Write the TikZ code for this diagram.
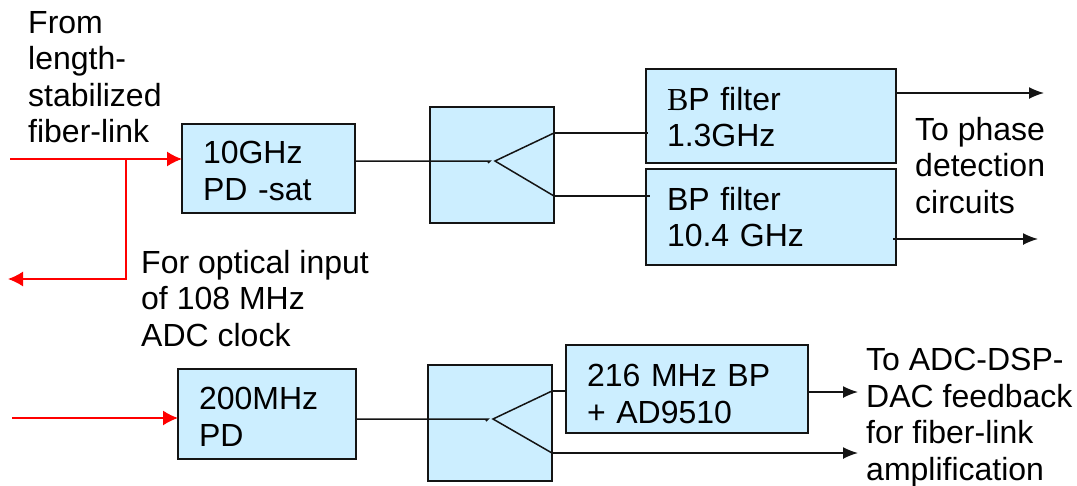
\documentclass[tikz,border=0pt]{standalone}
\usepackage{fontspec}
\setmainfont{Liberation Sans}
\newfontfamily\serifB{Liberation Serif}
\usetikzlibrary{arrows.meta,calc,positioning}
\definecolor{figC}{RGB}{204,238,255}
\definecolor{figL}{RGB}{20,20,20}

\begin{document}
\begin{tikzpicture}[x=1pt,y=-1pt,
  block/.style={draw=figL,line width=1.5pt,fill=figC,anchor=north west,outer sep=0pt,inner xsep=21pt,inner ysep=0pt,align=left,font=\fontsize{32}{36.5}\selectfont},
  textdrop/.style={execute at begin node={\rule{0pt}{#1}}},
  note/.style={anchor=north west,inner sep=0pt,align=left,font=\fontsize{32}{36.5}\selectfont},
  wire/.style={figL,line width=1.5pt},
  redline/.style={red,line width=1.5pt},
  outarrow/.style={wire,-{Latex[length=15pt,width=12pt]}},
  redarrow/.style={redline,-{Latex[length=15pt,width=15pt]}}]
\useasboundingbox (0,0) rectangle (1077,485);
% upper chain
\node[block,minimum width=173pt,minimum height=89pt,text width=131pt,textdrop=27pt] (pdsat) at (182,124) {10GHz\\PD -sat};
\node[block,minimum width=124pt,minimum height=116pt] (splitA) at (430,107) {};
\node[block,minimum width=250pt,minimum height=94pt,text width=208pt,textdrop=25pt] (bpA) at (646,69) {{\serifB B}P filter\\1.3GHz};
\node[block,minimum width=250pt,minimum height=96pt,text width=208pt] (bpB) at (646,169) {BP filter\\10.4 GHz};
% lower chain
\node[block,minimum width=178pt,minimum height=90pt,text width=136pt,inner xsep=20pt,textdrop=28pt] (pdlow) at (178,369) {200MHz\\PD};
\node[block,minimum width=124pt,minimum height=116pt] (splitB) at (428,365) {};
\node[block,minimum width=242pt,minimum height=88pt,text width=200pt,inner xsep=20pt,textdrop=32pt] (bpC) at (566,345) {216 MHz BP\\+ AD9510};
% free texts
\node[note] (fromtxt) at (28,11) {From\\length-\\stabilized\\fiber-link};
\node[note] (phasetxt) at (915,117) {To phase\\detection\\circuits};
\node[note] (opttxt) at (141,250) {For optical input\\of 108 MHz\\ADC clock};
\node[note] (adctxt) at (866,348) {To ADC-DSP-\\DAC feedback\\for fiber-link\\amplification};
% free ends
\coordinate (redinA) at (10,159);
\coordinate (redtee) at (126,159);
\coordinate (redcorner) at (126,279);
\coordinate (redout) at (8,279);
\coordinate (redinB) at (12,418);
\coordinate (forkA) at (495,161);
\coordinate (forkAu) at (554,133);
\coordinate (forkAd) at (554,196);
\coordinate (forkB) at (493,419);
\coordinate (forkBu) at (552,391);
\coordinate (forkBd) at (552,453);
\coordinate (outA) at (1044,93);
\coordinate (outB) at (1038,239);
\coordinate (outC) at (858,392);
\coordinate (outD) at (858,453);
% red fibres
\draw[redarrow] (redinA)--(pdsat.west|-redinA);
\draw[redarrow] (redtee)--(redcorner)--(redout);
\draw[redarrow] (redinB)--(pdlow.west|-redinB);
% splitters
\draw[wire] (pdsat.east|-forkA)--(490,161)--(488,163);
\draw[wire] (forkAu)--(forkA)--(forkAd);
\draw[wire] (pdlow.east|-forkB)--(488,419)--(486,421);
\draw[wire] (forkBu)--(forkB)--(forkBd);
\draw[wire] (forkAu)--(648,133);
\draw[wire] (forkAd)--(650,196);
\draw[wire] (forkBu)--(bpC.west|-forkBu);
% outputs
\draw[outarrow] (bpA.east|-outA)--(outA);
\draw[outarrow] (893,239)--(outB);
\draw[outarrow] (bpC.east|-outC)--(outC);
\draw[outarrow] (forkBd)--(outD);
\end{tikzpicture}
\end{document}
